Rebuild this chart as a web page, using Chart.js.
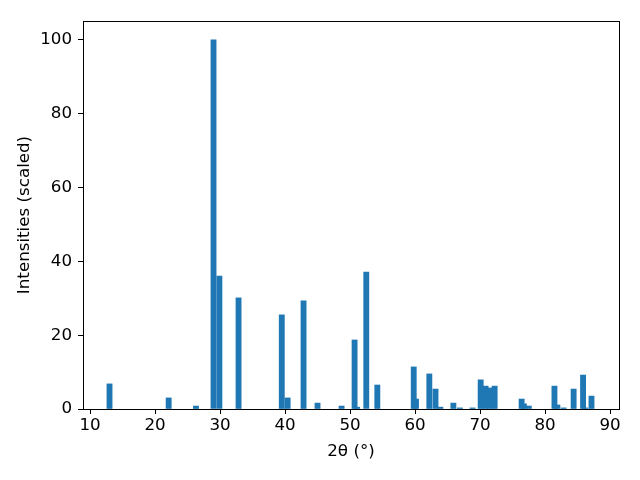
<!DOCTYPE html>
<html>
<head>
<meta charset="utf-8">
<script src="https://cdn.jsdelivr.net/npm/chart.js@4/dist/chart.umd.min.js"></script>
<style>
  html, body { margin: 0; padding: 0; background: #fff; }
  #wrap { width: 640px; height: 480px; }
</style>
</head>
<body>
<div id="wrap"><canvas id="xrd"></canvas></div>
<script>
// peak positions (2theta, degrees) and scaled intensities
const peakPositions = [13.0, 22.1, 26.3, 29.0, 29.9, 32.85, 39.5, 40.4, 42.85, 45.0,
  48.7, 50.7, 51.1, 52.5, 54.2, 59.8, 60.15, 62.2, 63.15, 63.9,
  65.9, 66.9, 68.85, 70.1, 70.85, 71.5, 72.25, 76.4, 76.75, 77.5,
  81.45, 81.9, 82.85, 84.4, 85.85, 86.2, 87.15];
const peakIntensities = [6.8, 3.0, 0.8, 100, 36.0, 30.1, 25.5, 3.0, 29.3, 1.6,
  0.8, 18.7, 0.5, 37.1, 6.5, 11.4, 2.7, 9.5, 5.4, 0.5,
  1.6, 0.3, 0.3, 7.9, 6.2, 5.7, 6.2, 2.7, 1.4, 0.8,
  6.2, 1.1, 0.3, 5.4, 9.2, 0.3, 3.5];
const xTicks = [10, 20, 30, 40, 50, 60, 70, 80, 90];
const yTicks = [0, 20, 40, 60, 80, 100];

const tickFont = { family: 'DejaVu Sans', size: 16.7 };

// matplotlib style box round the axes
const frameBox = {
  id: 'frameBox',
  afterDraw(chart) {
    const a = chart.chartArea;
    const ctx = chart.ctx;
    ctx.save();
    ctx.strokeStyle = '#000';
    ctx.lineWidth = 1;
    ctx.strokeRect(Math.round(a.left) + 0.5, Math.round(a.top) + 0.5,
      Math.round(a.right - a.left), Math.round(a.bottom - a.top));
    ctx.restore();
  }
};

const data = peakPositions.map((p, i) => ({ x: p, y: peakIntensities[i] }));

new Chart(document.getElementById('xrd'), {
  type: 'bar',
  data: {
    datasets: [{
      data: data,
      backgroundColor: '#1f77b4',
      borderWidth: 0,
      barThickness: 5.2,
    }]
  },
  options: {
    responsive: true,
    maintainAspectRatio: false,
    animation: false,
    layout: { padding: { left: 0, right: 21, top: 21, bottom: 0 } },
    plugins: { legend: { display: false }, tooltip: { enabled: false } },
    scales: {
      x: {
        type: 'linear',
        offset: false,
        min: 8.92,
        max: 91.38,
        afterBuildTicks: (scale) => { scale.ticks = xTicks.map(v => ({ value: v })); },
        afterFit: (scale) => { scale.height = 71; },
        grid: { offset: false, drawOnChartArea: false, tickLength: 5, tickColor: '#000' },
        border: { color: '#000', width: 1 },
        ticks: { color: '#000', font: tickFont, padding: 2, maxRotation: 0 },
        title: {
          display: true,
          text: '2θ (°)',
          color: '#000',
          font: tickFont,
          padding: { top: 0, bottom: 18 },
        },
      },
      y: {
        min: 0,
        max: 105.1,
        afterBuildTicks: (scale) => { scale.ticks = yTicks.map(v => ({ value: v })); },
        afterFit: (scale) => { scale.width = 83; },
        grid: { drawOnChartArea: false, tickLength: 5, tickColor: '#000' },
        border: { color: '#000', width: 1 },
        ticks: { color: '#000', font: tickFont, padding: 6 },
        title: {
          display: true,
          text: 'Intensities (scaled)',
          color: '#000',
          font: tickFont,
          padding: { top: 15, bottom: 0 },
        },
      },
    },
  },
  plugins: [frameBox],
});
</script>
</body>
</html>
